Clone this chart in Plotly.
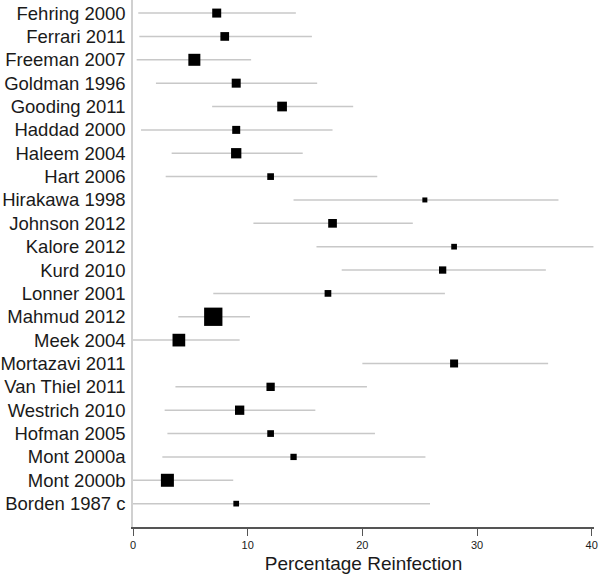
import plotly.graph_objects as go

studies = ["Fehring 2000", "Ferrari 2011", "Freeman 2007", "Goldman 1996", "Gooding 2011",
           "Haddad 2000", "Haleem 2004", "Hart 2006", "Hirakawa 1998", "Johnson 2012",
           "Kalore 2012", "Kurd 2010", "Lonner 2001", "Mahmud 2012", "Meek 2004",
           "Mortazavi 2011", "Van Thiel 2011", "Westrich 2010", "Hofman 2005",
           "Mont 2000a", "Mont 2000b", "Borden 1987 c"]
estimate = [7.3, 8.0, 5.35, 9.0, 13.0, 9.0, 9.0, 12.0, 25.45, 17.4,
            28.0, 27.0, 17.0, 7.0, 4.0, 28.0, 12.0, 9.3, 12.0, 14.0, 3.0, 9.0]
lower = [0.46, 0.55, 0.32, 2.0, 6.9, 0.7, 3.37, 2.85, 14.0, 10.5,
         16.0, 18.2, 7.0, 3.95, 0.0, 20.0, 3.7, 2.76, 3.0, 2.56, 0.0, 0.0]
upper = [14.2, 15.6, 10.3, 16.06, 19.2, 17.4, 14.8, 21.3, 37.1, 24.4,
         40.15, 36.0, 27.2, 10.2, 9.3, 36.2, 20.4, 15.9, 21.1, 25.5, 8.74, 25.9]
weight = [9, 8.7, 12, 9, 9.7, 8, 10.3, 6.7, 5, 8.7,
          5.7, 7.3, 6.7, 18.3, 12.7, 8, 8.3, 9.3, 6.7, 6.3, 13, 5.7]
x_ticks = [0, 10, 20, 30, 40]

pos = list(range(len(studies)))

lx, ly = [], []
for p, lo, hi in zip(pos, lower, upper):
    lx += [lo, hi, None]
    ly += [p, p, None]

fig = go.Figure()
fig.add_trace(go.Scatter(x=lx, y=ly, mode="lines",
                         line=dict(color="#c8c8c8", width=1.5),
                         hoverinfo="skip", showlegend=False, cliponaxis=False))
fig.add_trace(go.Scatter(x=estimate, y=pos, mode="markers",
                         marker=dict(symbol="square", color="#000000", opacity=1,
                                     size=[w * 1.0 for w in weight],
                                     line=dict(width=0)),
                         showlegend=False, cliponaxis=False))

fig.update_layout(
    width=600, height=577,
    margin=dict(l=133, r=6, t=0, b=50),
    paper_bgcolor="white", plot_bgcolor="white",
    font=dict(family="Liberation Sans, Arial, sans-serif", color="#1a1a1a"),
    xaxis=dict(range=[0, 40.2], tickvals=x_ticks, ticktext=[str(t) for t in x_ticks],
               automargin=False,
               showgrid=False, zeroline=False, showline=True, linecolor="#555555",
               linewidth=1.5, ticks="outside", ticklen=7, tickcolor="#555555",
               tickfont=dict(size=11, color="#1a1a1a"),
               title=dict(text="Percentage Reinfection", font=dict(size=19, color="#1a1a1a"),
                          standoff=7)),
    yaxis=dict(range=[22, -0.56], tickvals=pos, ticktext=studies, automargin=False,
               showgrid=False, zeroline=False, showline=True, linecolor="#d0d0d0",
               linewidth=1.5, ticks="", ticklabelstandoff=2,
               tickfont=dict(size=18.5, color="#1a1a1a")),
)

fig.write_html("out.html", config={"displayModeBar": False},
               post_script="document.body.style.margin='0px';")
